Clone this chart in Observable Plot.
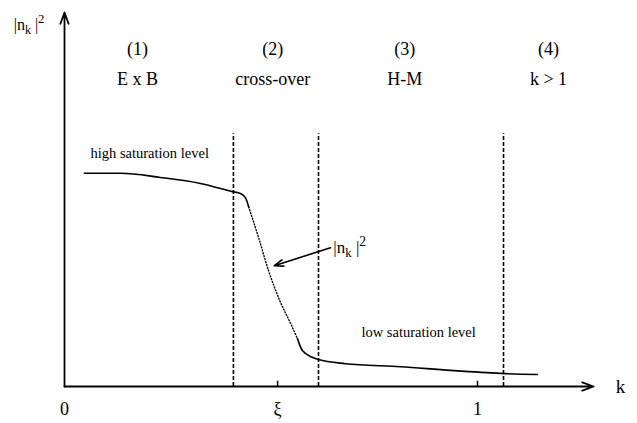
<!DOCTYPE html>
<html>
<head>
<meta charset="utf-8">
<script src="https://cdn.jsdelivr.net/npm/d3@7"></script>
<script src="https://cdn.jsdelivr.net/npm/@observablehq/plot@0.6"></script>
<style>
  html, body { margin: 0; padding: 0; background: #fff; }
  svg text { font-family: "Liberation Serif", "DejaVu Serif", serif; }
</style>
</head>
<body>
<div id="chart"></div>
<script>
// ---- data (x in units of k, y as fraction of the |n_k|^2 axis height) ----
const highK   = [0.048, 0.136, 0.232, 0.329, 0.407, 0.426, 0.438, 0.446];
const highN   = [0.570, 0.570, 0.559, 0.543, 0.521, 0.516, 0.505, 0.480];
const crossK  = [0.446, 0.470, 0.494, 0.518, 0.552, 0.564];
const crossN  = [0.480, 0.398, 0.310, 0.238, 0.158, 0.128];
const lowK    = [0.564, 0.576, 0.600, 0.615, 0.680, 0.814, 0.935, 1.056, 1.145];
const lowN    = [0.128, 0.096, 0.078, 0.072, 0.061, 0.053, 0.043, 0.035, 0.032];

const boundaries = [0.409, 0.615, 1.063];      // dashed region borders
const boundaryTop = 0.676;

const regionNumbers = ["(1)", "(2)", "(3)", "(4)"];
const regionNames   = ["E x B", "cross-over", "H-M", "k > 1"];
const regionCenters = [0.177, 0.504, 0.824, 1.172];

const tickValues = [0, 0.516, 1];
const tickLabels = ["0", "ξ", "1"];
const xAxisEnd = 1.281;

const toRows = (xs, ys) => xs.map((x, i) => ({k: x, n: ys[i]}));
const high = toRows(highK, highN);
const cross = toRows(crossK, crossN);
const low = toRows(lowK, lowN);
const regions = regionNumbers.map((num, i) => ({num, name: regionNames[i], x: regionCenters[i]}));
const ticks = tickValues.map((v, i) => ({v, label: tickLabels[i]}));

const notes = [
  {k: 0.063, n: 0.623, text: "high saturation level"},
  {k: 0.719, n: 0.144, text: "low saturation level"}
];

const plot = Plot.plot({
  width: 637,
  height: 423,
  marginLeft: 64,
  marginRight: 160,
  marginTop: 12,
  marginBottom: 37,
  x: {domain: [0, 1], axis: null},
  y: {domain: [0, 1], axis: null},
  style: {background: "#fff", color: "#000", fontFamily: "Liberation Serif, serif"},
  marks: [
    // axes
    Plot.arrow([{x1: 0, y1: 0, x2: xAxisEnd, y2: 0}], {x1: "x1", y1: "y1", x2: "x2", y2: "y2", stroke: "#000", strokeWidth: 1.8, headLength: 10, headAngle: 40}),
    Plot.arrow([{x1: 0, y1: 0, x2: 0, y2: 1}], {x1: "x1", y1: "y1", x2: "x2", y2: "y2", stroke: "#000", strokeWidth: 1.8, headLength: 10, headAngle: 40}),
    // small ticks
    Plot.ruleX(tickValues.slice(1), {y1: 0, y2: 0.014, stroke: "#000", strokeWidth: 1.5}),
    // region borders
    Plot.ruleX(boundaries, {y1: 0, y2: boundaryTop, stroke: "#000", strokeWidth: 1.6, strokeDasharray: "4,2"}),
    // curve
    Plot.line(high, {x: "k", y: "n", curve: "monotone-x", stroke: "#000", strokeWidth: 1.6}),
    Plot.line(cross, {x: "k", y: "n", curve: "monotone-x", stroke: "#000", strokeWidth: 1.4, strokeDasharray: "1,2"}),
    Plot.line(low, {x: "k", y: "n", curve: "monotone-x", stroke: "#000", strokeWidth: 1.6}),
    // annotation arrow
    Plot.arrow([{x1: 0.644, y1: 0.371, x2: 0.508, y2: 0.323}], {x1: "x1", y1: "y1", x2: "x2", y2: "y2", stroke: "#000", strokeWidth: 1.6, headLength: 9, headAngle: 40}),
    Plot.text([{k: 0.651, n: 0.356, t: "|n_k|^2"}], {x: "k", y: "n", text: "t", textAnchor: "start", lineAnchor: "bottom", fontSize: 17, fill: "#000"}),
    // region labels
    Plot.text(regions, {x: "x", y: () => 0.901, text: "num", fontSize: 18, fill: "#000"}),
    Plot.text(regions, {x: "x", y: () => 0.822, text: "name", fontSize: 18, fill: "#000"}),
    // notes
    Plot.text(notes, {x: "k", y: "n", text: "text", textAnchor: "start", fontSize: 14.5, fill: "#000"}),
    // tick labels
    Plot.text(ticks, {x: "v", y: () => 0, dy: 23, text: "label", fontSize: 18, fill: "#000"}),
    Plot.text(["k"], {x: () => 1.346, y: () => 0, text: d => d, fontSize: 19, fill: "#000"}),
    // y axis label
    Plot.text([{k: -0.123, n: 0.952, t: "|n_k|^2"}], {x: "k", y: "n", text: "t", textAnchor: "start", lineAnchor: "bottom", fontSize: 16, fill: "#000"})
  ]
});

// render |n_k|^2 with real sub/superscripts
plot.querySelectorAll("text").forEach(t => {
  if (t.textContent === "|n_k|^2") {
    t.innerHTML = '|n<tspan dy="4" font-size="0.75em">k</tspan><tspan dy="-4"> |</tspan><tspan dy="-7" font-size="0.8em">2</tspan>';
  }
});

document.getElementById("chart").appendChild(plot);
</script>
</body>
</html>
